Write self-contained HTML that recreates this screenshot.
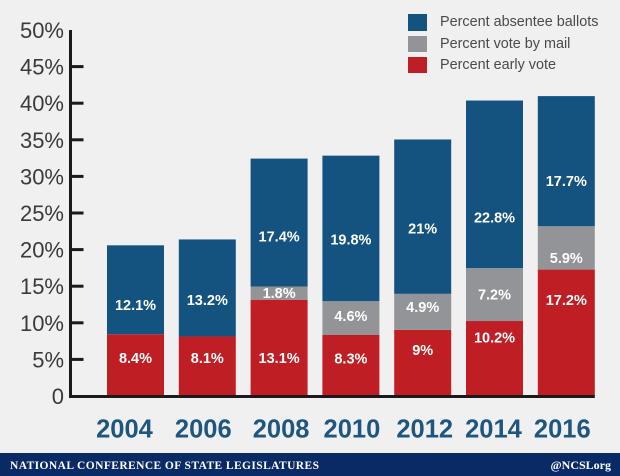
<!DOCTYPE html>
<html lang="en">
<head>
<meta charset="utf-8">
<title>Percent of ballots cast by method, 2004-2016</title>
<style>
html,body{margin:0;padding:0;background:#f0f0f1;}
svg{display:block;font-family:"Liberation Sans",sans-serif;}
</style>
</head>
<body>
<svg id="chart" width="620" height="476" viewBox="0 0 620 476" xmlns="http://www.w3.org/2000/svg">
  <rect x="0" y="0" width="620" height="476" fill="#f0f0f1"/>
  <g id="plot"></g>
  <g font-size="14.4" fill="#4a4a4c">
    <g>
      <rect x="408" y="14" width="19" height="17" fill="#14527f"/>
      <text x="440" y="26">Percent absentee ballots</text>
    </g>
    <g>
      <rect x="408" y="36" width="19" height="16" fill="#929497"/>
      <text x="440" y="48">Percent vote by mail</text>
    </g>
    <g>
      <rect x="408" y="57" width="19" height="16" fill="#bf1e24"/>
      <text x="440" y="69">Percent early vote</text>
    </g>
  </g>
  <g>
    <rect x="0" y="453" width="620" height="23" fill="#0a2a66"/>
    <text x="10" y="469" fill="#ffffff" font-family="'Liberation Serif',serif" font-weight="700" font-size="11.5" textLength="309" lengthAdjust="spacing">NATIONAL CONFERENCE OF STATE LEGISLATURES</text>
    <text x="611" y="469" fill="#ffffff" text-anchor="end" font-family="'Liberation Serif',serif" font-weight="700" font-size="12">@NCSLorg</text>
  </g>
</svg>
<script>
const years = ['2004', '2006', '2008', '2010', '2012', '2014', '2016'];
const earlyVote = [8.4, 8.1, 13.1, 8.3, 9, 10.2, 17.2];
const voteByMail = [0, 0, 1.8, 4.6, 4.9, 7.2, 5.9];
const absentee = [12.1, 13.2, 17.4, 19.8, 21, 22.8, 17.7];
const yTicks = [0, 5, 10, 15, 20, 25, 30, 35, 40, 45, 50];

// Hand placement of the printed labels, relative to each segment's centre.
const earlyLabelNudge = [-7, -8, 10, -7, -13, -21, -33];
const mailLabelNudge = [0, 0, 0, -2, -5, 0, 10];
const absenteeLabelNudge = [15, 12, 14, 11, 12, 33, 20];
// Hand placement of the year labels, relative to each bar's centre.
const yearLabelNudge = [-11, -4, 2, 1, 2, -1, -4];

const NS = 'http://www.w3.org/2000/svg';
const plot = document.getElementById('plot');
const AXIS_X = 70.5;
const BASE_Y = 396;
const BAR_W = 57;
const FIRST_BAR_X = 107;
const BAR_STEP = 71.8;
const BAR_SCALE = 7.35;
const AXIS_SCALE = 7.32;

function yAxis(v) { return BASE_Y - v * AXIS_SCALE; }
function barHeight(v) { return v * BAR_SCALE; }
function xBand(i) { return FIRST_BAR_X + i * BAR_STEP; }

function make(tag, attrs, text) {
  const el = document.createElementNS(NS, tag);
  for (const k in attrs) el.setAttribute(k, attrs[k]);
  if (text !== undefined) el.textContent = text;
  plot.appendChild(el);
  return el;
}

const seriesList = [
  { key: 'early', values: earlyVote, color: '#bf1e24', nudge: earlyLabelNudge },
  { key: 'mail', values: voteByMail, color: '#929497', nudge: mailLabelNudge },
  { key: 'absentee', values: absentee, color: '#14527f', nudge: absenteeLabelNudge }
];

years.forEach(function (year, i) {
  let stackBottom = BASE_Y;
  seriesList.forEach(function (s) {
    const v = s.values[i];
    if (!v) return;
    const h = barHeight(v);
    const top = stackBottom - h;
    const bar = make('rect', { x: xBand(i), y: top, width: BAR_W, height: h, fill: s.color });
    
    
    const label = make('text', {
      x: xBand(i) + BAR_W / 2,
      y: top + h / 2 + s.nudge[i] + 5,
      fill: '#ffffff',
      'font-size': '14.5',
      'font-weight': '700',
      'text-anchor': 'middle'
    }, v + '%');
    
    
    stackBottom = top;
  });
  const yearLabel = make('text', {
    x: xBand(i) + BAR_W / 2 + yearLabelNudge[i],
    y: 437.5,
    fill: '#1f5680',
    'font-size': '25.5',
    'font-weight': '700',
    'text-anchor': 'middle'
  }, year);
  
  
});

const yAxisLine = make('rect', {
  x: AXIS_X - 1.5,
  y: yAxis(yTicks[yTicks.length - 1]),
  width: 3,
  height: BASE_Y - yAxis(yTicks[yTicks.length - 1]) + 1.5,
  fill: '#1a1a1a'
});



const xAxisLine = make('rect', {
  x: AXIS_X - 1.5,
  y: BASE_Y - 1,
  width: xBand(years.length - 1) + BAR_W - AXIS_X + 1.5,
  height: 3,
  fill: '#1a1a1a'
});



yTicks.forEach(function (t, i) {
  const y = yAxis(t);
  if (i > 0 && i < yTicks.length - 1) {
    const tick = make('rect', { x: AXIS_X, y: y - 1.5, width: 13, height: 3, fill: '#1a1a1a' });
    
    
  }
  const label = make('text', {
    x: 64,
    y: y + 8,
    fill: '#3a3a3c',
    'font-size': '22',
    'text-anchor': 'end'
  }, t === 0 ? '0' : t + '%');
  
  
});
</script>
</body>
</html>
